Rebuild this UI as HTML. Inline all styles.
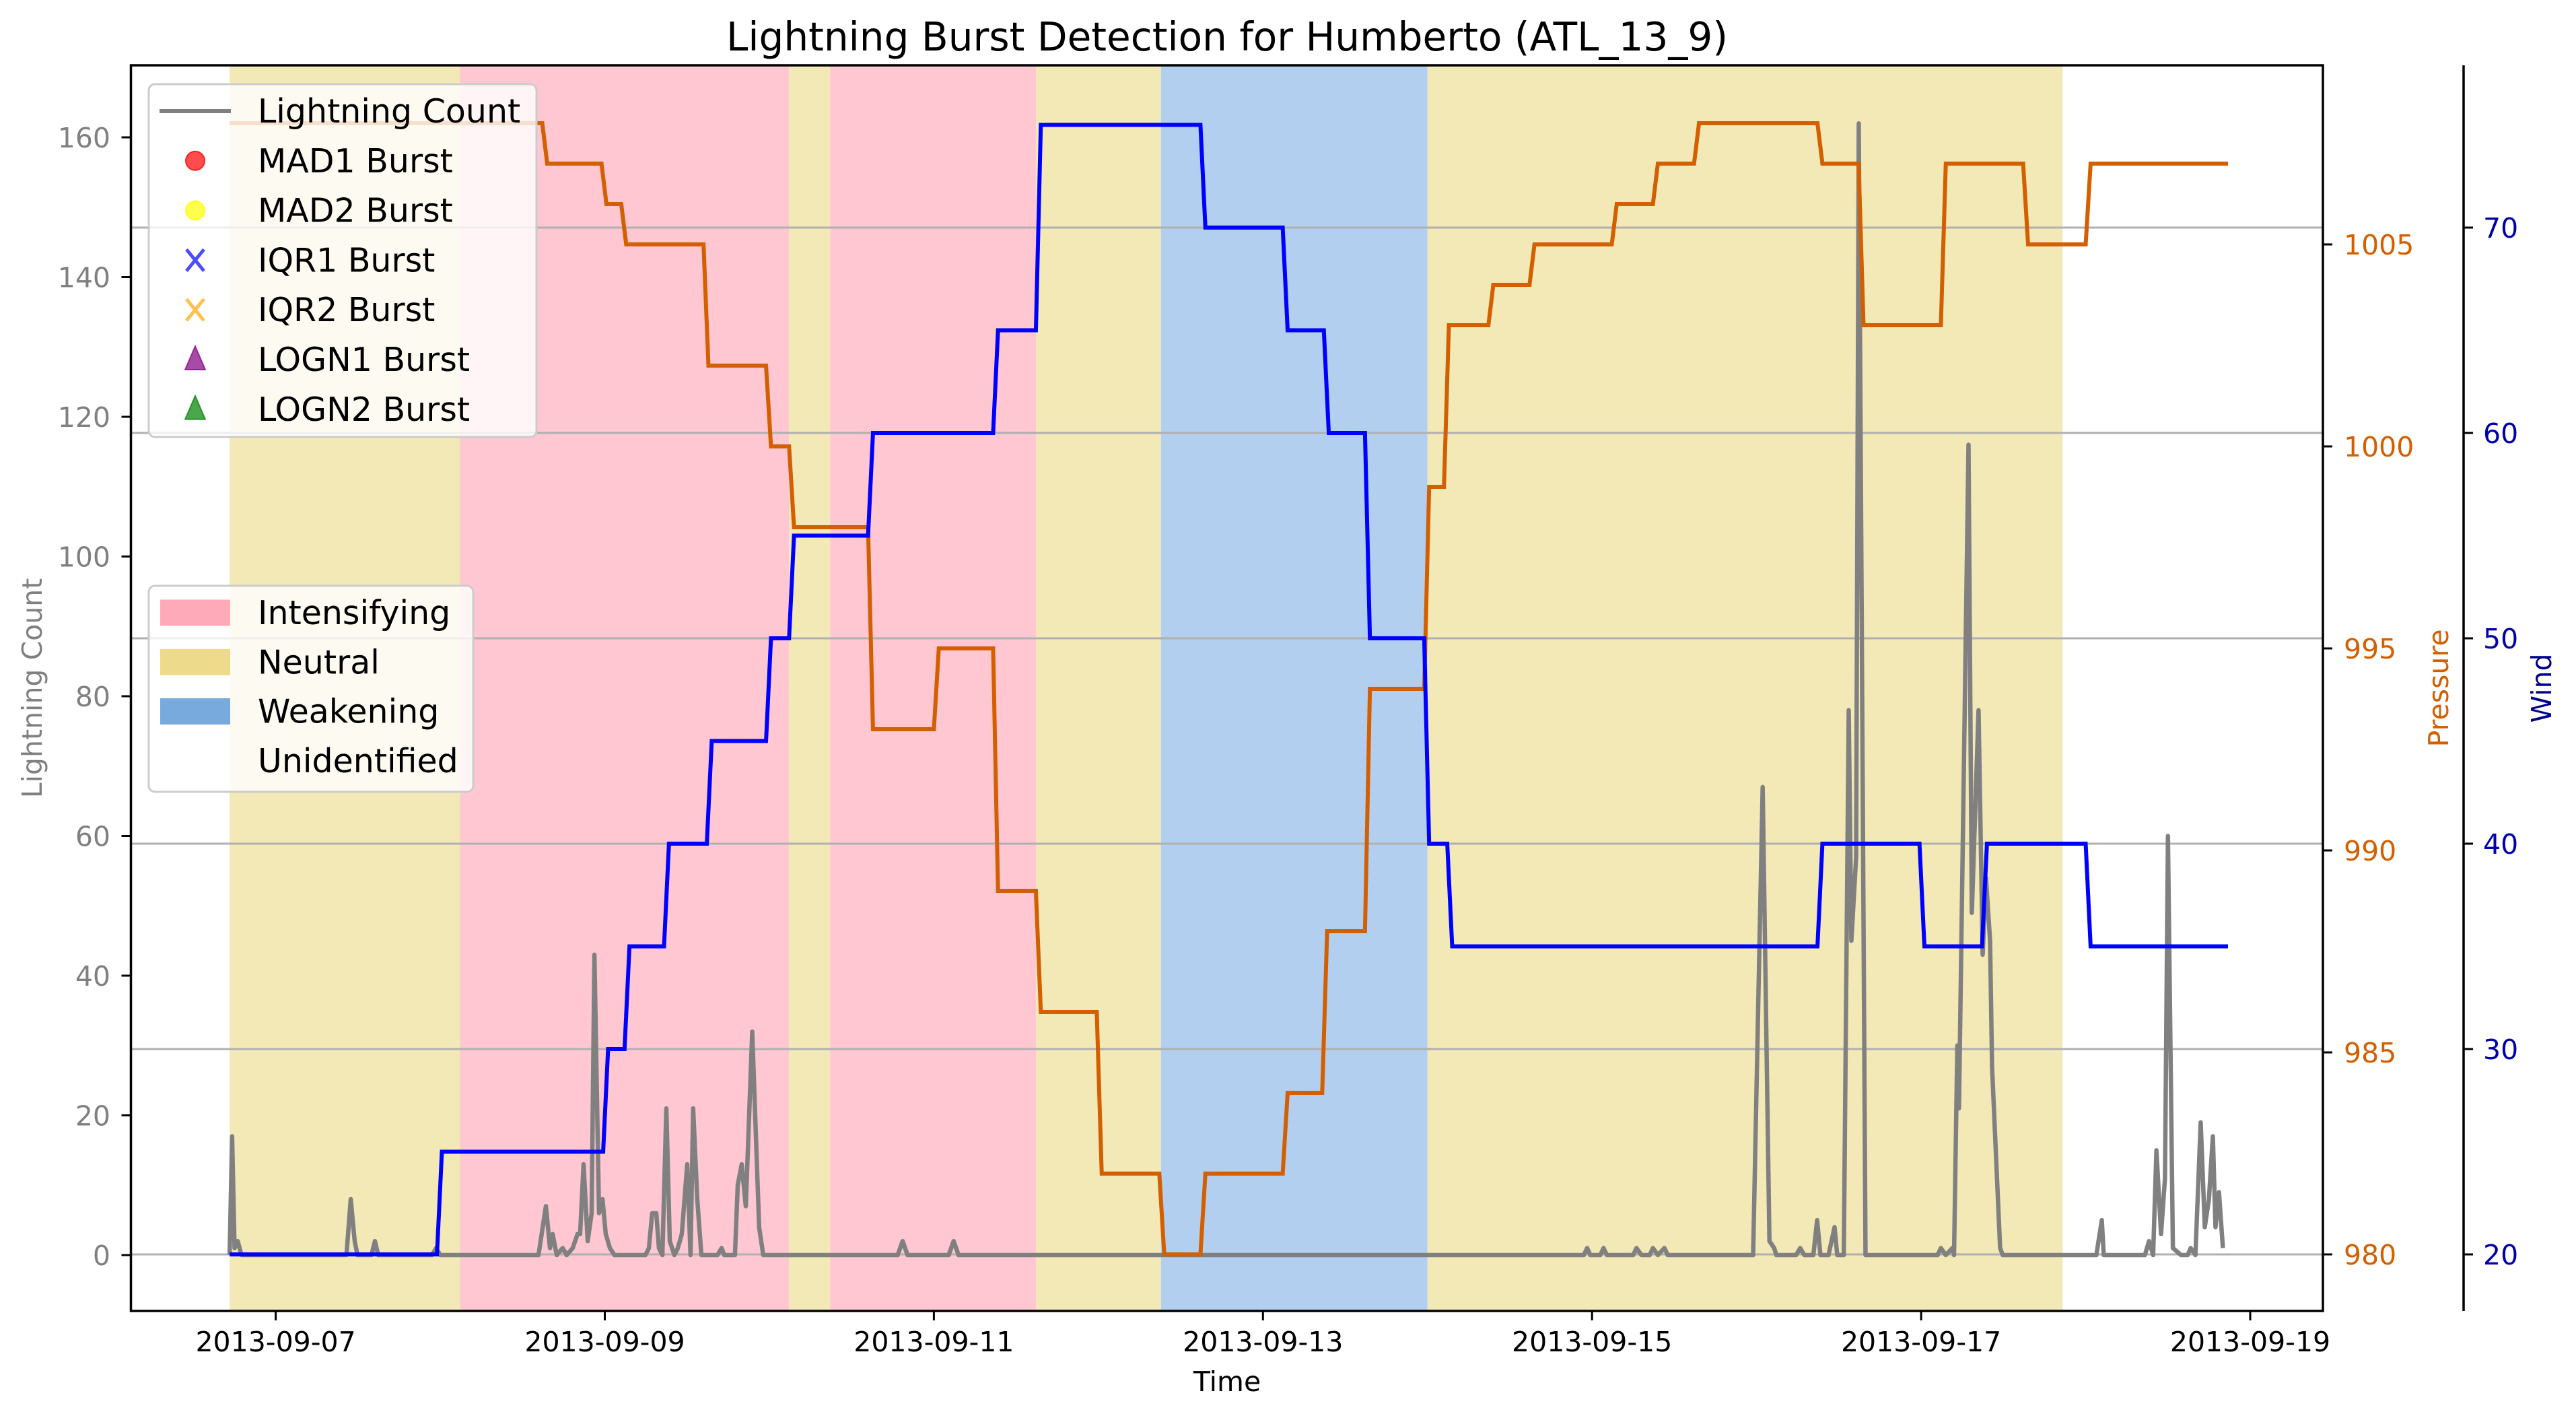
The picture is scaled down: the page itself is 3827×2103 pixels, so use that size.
<!DOCTYPE html>
<html><head><meta charset="utf-8"><style>
html,body{margin:0;padding:0;background:#fff;}
svg{display:block;font-family:"DejaVu Sans","Liberation Sans",sans-serif;}
</style></head><body>
<svg id="chart" width="3827" height="2103" viewBox="0 0 3827 2103" xmlns="http://www.w3.org/2000/svg">
<rect x="0" y="0" width="3827" height="2103" fill="#fff"/>
<g id="spans"></g>
<g id="grid"></g>
<g id="series"></g>
<g id="axes"></g>
<g id="legends"></g>
<text x="1823" y="75" font-size="59" text-anchor="middle" textLength="1488" lengthAdjust="spacingAndGlyphs">Lightning Burst Detection for Humberto (ATL_13_9)</text>
<text x="1823" y="2066" font-size="41" text-anchor="middle">Time</text>
<text x="0" y="0" font-size="41" fill="#808080" text-anchor="middle" transform="translate(62,1022) rotate(-90)">Lightning Count</text>
<text x="0" y="0" font-size="41" fill="#d35f00" text-anchor="middle" transform="translate(3637,1022) rotate(-90)">Pressure</text>
<text x="0" y="0" font-size="41" fill="#00008b" text-anchor="middle" transform="translate(3790,1022) rotate(-90)">Wind</text>
</svg>
<script>
// ---- data (days relative to 2013-09-07 00:00) ----
const spanStarts = [-0.28, 1.12, 3.12, 3.37, 4.62, 5.38, 7.0];
const spanEnds   = [1.12, 3.12, 3.37, 4.62, 5.38, 7.0, 10.86];
const spanPhases = ["Neutral","Intensifying","Neutral","Intensifying","Neutral","Weakening","Neutral"];

const presTimes = [-0.28,1.62,1.98,2.10,2.60,2.98,3.12,3.60,4.00,4.36,4.62,4.99,5.37,5.62,6.12,6.36,6.62,6.98,7.10,7.37,7.62,8.12,8.37,8.62,9.37,9.62,10.12,10.62,11.0];
const presVals  = [1008,1007,1006,1005,1002,1000,998,993,995,989,986,982,980,982,984,988,994,999,1003,1004,1005,1006,1007,1008,1007,1003,1007,1005,1007];
const presEnd = 11.865;

const windTimes = [-0.28,0.98,1.99,2.12,2.36,2.62,2.98,3.12,3.60,4.36,4.62,5.62,6.12,6.37,6.62,6.98,7.12,9.37,9.99,10.37,11.0];
const windVals  = [20,25,30,35,40,45,50,55,60,65,75,70,65,60,50,40,35,40,35,40,35];
const windEnd = 11.865;

const lightTimes = [-0.28,-0.265,-0.25,-0.231,-0.208,-0.185,0.43,0.456,0.48,0.497,0.582,0.603,0.623,0.95,0.975,1.0,
1.597,1.642,1.667,1.683,1.708,1.744,1.768,1.805,1.834,1.850,1.871,1.896,1.920,1.937,1.965,1.986,2.006,2.031,2.059,
2.247,2.268,2.288,2.313,2.329,2.350,2.374,2.395,2.423,2.444,2.468,2.501,2.521,2.537,2.562,2.587,
2.685,2.710,2.726,2.791,2.808,2.832,2.857,2.896,2.926,2.938,2.963,
3.78,3.81,3.84,4.09,4.12,4.15,7.95,7.97,7.99,8.05,8.07,8.09,8.25,8.27,8.30,8.35,8.37,8.40,8.44,8.46,
8.979,9.037,9.078,9.107,9.12,9.24,9.265,9.29,9.345,9.368,9.388,9.437,9.474,9.49,9.530,9.560,9.576,9.605,9.621,9.662,
10.10,10.12,10.15,10.19,10.20,10.22,10.23,10.288,10.308,10.349,10.374,10.394,10.419,10.431,10.480,10.496,
11.065,11.098,11.11,11.36,11.385,11.41,11.43,11.458,11.482,11.50,11.53,11.58,11.62,11.638,11.667,11.699,11.724,11.749,11.773,11.789,11.81,11.834];
const lightVals = [0,17,1,2,0,0,0,8,2,0,0,2,0,0,1,0,
0,7,1,3,0,1,0,1,3,3,13,2,6,43,6,8,3,1,0,
0,1,6,6,1,0,21,2,0,1,3,13,0,21,8,0,
0,1,0,0,10,13,7,32,12,4,0,
0,2,0,0,2,0,0,1,0,0,1,0,0,1,0,0,1,0,1,0,
0,67,2,1,0,0,1,0,0,5,0,0,4,0,0,78,45,57,162,0,
0,1,0,1,0,30,21,116,49,78,43,54,45,27,1,0,
0,5,0,0,2,0,15,3,11,60,1,0,0,1,0,19,4,8,17,4,9,1];

const xTickDays = [0,2,4,6,8,10,12];
const xTickLabels = ["2013-09-07","2013-09-09","2013-09-11","2013-09-13","2013-09-15","2013-09-17","2013-09-19"];
const lightTicks = [0,20,40,60,80,100,120,140,160];
const presTicks = [980,985,990,995,1000,1005];
const windTicks = [20,30,40,50,60,70];

// ---- axes ----
const L=194.5,R=3451,T=97,B=1947;
const xS = d => 409.6 + d*244.45;
const yL = v => 1864 - v*10.375;
const yP = v => 1863 - (v-980)*60;
const yW = v => 1863 - (v-20)*30.5;
const NS="http://www.w3.org/2000/svg";
function mk(tag, parent, attrs){const e=document.createElementNS(NS,tag);for(const k in attrs)e.setAttribute(k,attrs[k]);parent.appendChild(e);return e;}
const gSpans=document.getElementById('spans'),gGrid=document.getElementById('grid'),gSer=document.getElementById('series'),gAx=document.getElementById('axes'),gLeg=document.getElementById('legends');
const phaseColor={Intensifying:"#fec7d2",Neutral:"#f2e9b7",Weakening:"#b2cfef"};

spanStarts.forEach((s,i)=>{
  const r=mk('rect',gSpans,{x:xS(s),y:T,width:xS(spanEnds[i])-xS(s),height:B-T,fill:phaseColor[spanPhases[i]]});
  
  
});

windTicks.forEach(v=>{
  const l=mk('line',gGrid,{x1:L,x2:R,y1:yW(v),y2:yW(v),stroke:"#b0b0b0","stroke-width":3});
  
  
});

function stepPath(times, vals, end, yf){
  const ramp=0.03; let d="M"+xS(times[0])+","+yf(vals[0]);
  for(let i=1;i<times.length;i++){
    d+=" L"+xS(times[i])+","+yf(vals[i-1])+" L"+xS(times[i]+ramp)+","+yf(vals[i]);
  }
  d+=" L"+xS(end)+","+yf(vals[vals.length-1]);
  return d;
}
let lp="";
lightTimes.forEach((t,i)=>{lp+=(i?" L":"M")+xS(t)+","+yL(lightVals[i]);});
const pl=mk('path',gSer,{d:lp,fill:"none",stroke:"#808080","stroke-width":6.5,"stroke-linejoin":"round"});


const pp=mk('path',gSer,{d:stepPath(presTimes,presVals,presEnd,yP),fill:"none",stroke:"#d35f00","stroke-width":6});


const pw=mk('path',gSer,{d:stepPath(windTimes,windVals,windEnd,yW),fill:"none",stroke:"#0000ff","stroke-width":6});



const fr=mk('rect',gAx,{x:L,y:T,width:R-L,height:B-T,fill:"none",stroke:"#000","stroke-width":3.5});


const ws=mk('line',gAx,{x1:3660,x2:3660,y1:T,y2:B,stroke:"#000","stroke-width":3.5});



xTickDays.forEach((d,i)=>{
  mk('line',gAx,{x1:xS(d),x2:xS(d),y1:B,y2:B+14,stroke:"#000","stroke-width":3});
  const t=mk('text',gAx,{x:xS(d),y:2007,"font-size":41,"text-anchor":"middle"});
  t.textContent=xTickLabels[i];
  
  
});
lightTicks.forEach(v=>{
  mk('line',gAx,{x1:L-14,x2:L,y1:yL(v),y2:yL(v),stroke:"#000","stroke-width":3});
  const t=mk('text',gAx,{x:164,y:yL(v)+15,"font-size":41,"text-anchor":"end",fill:"#808080"});
  t.textContent=v;
  
  
});
presTicks.forEach(v=>{
  mk('line',gAx,{x1:R,x2:R+14,y1:yP(v),y2:yP(v),stroke:"#000","stroke-width":3});
  const t=mk('text',gAx,{x:3482,y:yP(v)+15,"font-size":41,fill:"#d35f00"});
  t.textContent=v;
  
  
});
windTicks.forEach(v=>{
  mk('line',gAx,{x1:3660,x2:3674,y1:yW(v),y2:yW(v),stroke:"#000","stroke-width":3});
  const t=mk('text',gAx,{x:3689,y:yW(v)+15,"font-size":41,fill:"#0000aa"});
  t.textContent=v;
  
  
});

const lb1=mk('rect',gLeg,{x:221,y:125,width:576,height:524,rx:9,fill:"rgba(255,255,255,0.8)",stroke:"#cccccc","stroke-width":3});


const rows1=["Lightning Count","MAD1 Burst","MAD2 Burst","IQR1 Burst","IQR2 Burst","LOGN1 Burst","LOGN2 Burst"];
rows1.forEach((lab,i)=>{
  const cy=165+i*73.8, cx=290;
  if(i==0) mk('line',gLeg,{x1:237,x2:343,y1:cy,y2:cy,stroke:"#808080","stroke-width":6});
  else if(i==1) mk('circle',gLeg,{cx:cx,cy:cy,r:14,fill:"rgba(255,0,0,0.7)",stroke:"rgba(255,0,0,0.8)","stroke-width":2});
  else if(i==2) mk('circle',gLeg,{cx:cx,cy:cy,r:14,fill:"rgba(255,255,0,0.7)",stroke:"rgba(255,255,0,0.8)","stroke-width":2});
  else if(i==3||i==4){const c=i==3?"rgba(0,0,255,0.7)":"rgba(255,165,0,0.7)";
    mk('path',gLeg,{d:`M${cx-13},${cy-16}L${cx+13},${cy+16}M${cx+13},${cy-16}L${cx-13},${cy+16}`,stroke:c,"stroke-width":5});}
  else {const c=i==5?"rgba(128,0,128,0.7)":"rgba(0,128,0,0.7)";
    mk('path',gLeg,{d:`M${cx},${cy-20}L${cx+15},${cy+15}L${cx-15},${cy+15}Z`,fill:c,stroke:c,"stroke-width":2});}
  const t=mk('text',gLeg,{x:383,y:cy+17,"font-size":49});
  t.textContent=lab;
  
  
});

const lb2=mk('rect',gLeg,{x:221,y:870,width:482,height:306,rx:9,fill:"rgba(255,255,255,0.8)",stroke:"#cccccc","stroke-width":3});


const rows2=[["Intensifying","#ffaab9"],["Neutral","#eddb8b"],["Weakening","#78aadd"],["Unidentified","none"]];
rows2.forEach((r,i)=>{
  const cy=910+i*73.3;
  if(r[1]!="none") mk('rect',gLeg,{x:238,y:cy-19.5,width:104,height:39,fill:r[1]});
  const t=mk('text',gLeg,{x:383,y:cy+17,"font-size":49});
  t.textContent=r[0];
  
  
});
</script>
</body></html>
